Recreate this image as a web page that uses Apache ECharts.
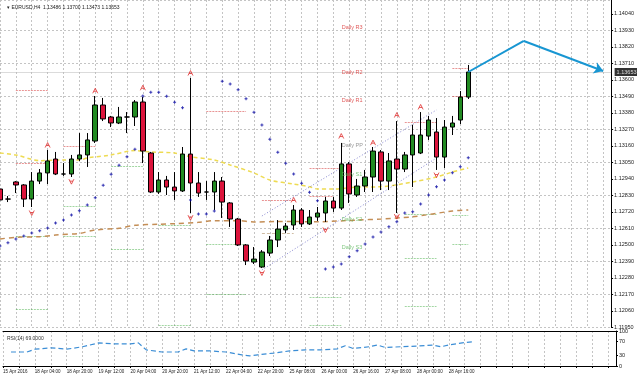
<!DOCTYPE html>
<html>
<head>
<meta charset="utf-8">
<script src="https://cdn.jsdelivr.net/npm/echarts@6.0.0/dist/echarts.min.js"></script>
<style>
  html, body { margin: 0; padding: 0; background: #fff; }
  #chart { width: 637px; height: 378px; }
</style>
</head>
<body>
<div id="chart"></div>
<script>
// EURUSD H4, one candle per slot, a time label every 4th slot
var timeLabels = ["15 Apr 2016", "18 Apr 04:00", "18 Apr 20:00", "19 Apr 12:00", "20 Apr 04:00",
  "20 Apr 20:00", "21 Apr 12:00", "22 Apr 04:00", "22 Apr 20:00", "25 Apr 08:00",
  "26 Apr 00:00", "26 Apr 16:00", "27 Apr 08:00", "28 Apr 00:00", "28 Apr 16:00"];

// [open, close, low, high]
var candles = [
  [1.12873, 1.12800, 1.12773, 1.12906], [1.12806, 1.12806, 1.12786, 1.12826],
  [1.12920, 1.12900, 1.12846, 1.12926], [1.12900, 1.12806, 1.12753, 1.12906],
  [1.12806, 1.12926, 1.12753, 1.12986], [1.12926, 1.12980, 1.12906, 1.13006],
  [1.12980, 1.13060, 1.12906, 1.13133], [1.13073, 1.12973, 1.12966, 1.13120],
  [1.12973, 1.12973, 1.12960, 1.13046], [1.12973, 1.13073, 1.12953, 1.13100],
  [1.13073, 1.13100, 1.13060, 1.13246], [1.13100, 1.13200, 1.13020, 1.13246],
  [1.13193, 1.13433, 1.13180, 1.13493], [1.13433, 1.13340, 1.13326, 1.13480],
  [1.13353, 1.13313, 1.13286, 1.13360], [1.13313, 1.13353, 1.13306, 1.13420],
  [1.13353, 1.13353, 1.13246, 1.13386], [1.13353, 1.13453, 1.13293, 1.13466],
  [1.13453, 1.13126, 1.13046, 1.13486], [1.13113, 1.12853, 1.12846, 1.13120],
  [1.12853, 1.12933, 1.12840, 1.12986], [1.12933, 1.12886, 1.12833, 1.12960],
  [1.12886, 1.12860, 1.12800, 1.12986], [1.12860, 1.13106, 1.12853, 1.13153],
  [1.13106, 1.12913, 1.12713, 1.13613], [1.12913, 1.12846, 1.12820, 1.12986],
  [1.12853, 1.12853, 1.12800, 1.12926], [1.12853, 1.12926, 1.12733, 1.12986],
  [1.12926, 1.12786, 1.12680, 1.12953], [1.12780, 1.12673, 1.12620, 1.12786],
  [1.12673, 1.12500, 1.12493, 1.12680], [1.12500, 1.12393, 1.12366, 1.12506],
  [1.12386, 1.12406, 1.12373, 1.12486], [1.12353, 1.12453, 1.12346, 1.12466],
  [1.12446, 1.12533, 1.12426, 1.12560], [1.12533, 1.12606, 1.12486, 1.12666],
  [1.12600, 1.12626, 1.12580, 1.12646], [1.12633, 1.12733, 1.12600, 1.12766],
  [1.12733, 1.12640, 1.12620, 1.12746], [1.12640, 1.12686, 1.12633, 1.12733],
  [1.12686, 1.12713, 1.12660, 1.12753], [1.12713, 1.12793, 1.12653, 1.12820],
  [1.12793, 1.12746, 1.12720, 1.12820], [1.12746, 1.13040, 1.12733, 1.13180],
  [1.13040, 1.12840, 1.12780, 1.13053], [1.12833, 1.12893, 1.12820, 1.12940],
  [1.12893, 1.12953, 1.12853, 1.13000], [1.12953, 1.13126, 1.12853, 1.13153],
  [1.13120, 1.12926, 1.12866, 1.13133], [1.12926, 1.13060, 1.12866, 1.13113],
  [1.13073, 1.13006, 1.12713, 1.13326], [1.13006, 1.13100, 1.12986, 1.13120],
  [1.13100, 1.13233, 1.12886, 1.13300], [1.13113, 1.13233, 1.13106, 1.13386],
  [1.13226, 1.13333, 1.13200, 1.13360], [1.13253, 1.13086, 1.13000, 1.13346],
  [1.13086, 1.13286, 1.13013, 1.13333], [1.13286, 1.13313, 1.13233, 1.13360],
  [1.13333, 1.13486, 1.13306, 1.13526], [1.13486, 1.13653, 1.13473, 1.13700]
];

// parabolic SAR [slot, price]
var sarPoints = [
  [0, 1.12493], [1, 1.12515], [2, 1.12540], [3, 1.12560], [4, 1.12580], [5, 1.12595],
  [6, 1.12613], [7, 1.12646], [8, 1.12666], [9, 1.12700], [10, 1.12728], [11, 1.12766],
  [12, 1.12815], [13, 1.12898], [14, 1.12971], [15, 1.13031], [16, 1.13088], [17, 1.13138],
  [18, 1.13493], [19, 1.13518], [20, 1.13518], [21, 1.13491], [22, 1.13451], [23, 1.13415],
  [24, 1.12800], [25, 1.12706], [26, 1.12706], [27, 1.12726],
  [28, 1.13591], [29, 1.13573], [30, 1.13535], [31, 1.13475], [32, 1.13384], [33, 1.13300],
  [34, 1.13204], [35, 1.13118], [36, 1.13044], [37, 1.12973], [38, 1.12911], [39, 1.12851],
  [40, 1.12795], [41, 1.12340], [42, 1.12353], [43, 1.12373], [44, 1.12422], [45, 1.12462],
  [46, 1.12506], [47, 1.12553], [48, 1.12586], [49, 1.12622], [50, 1.12655], [51, 1.12713],
  [52, 1.12722], [53, 1.12773], [54, 1.12833], [55, 1.12888], [56, 1.12933], [57, 1.12982],
  [58, 1.13022], [59, 1.13082]
];

var fractalUp = [[6, 1.13166], [12, 1.13528], [18, 1.13548], [24, 1.13646], [37, 1.12800],
  [43, 1.13226], [47, 1.13182], [50, 1.13366], [53, 1.13420]];
var fractalDown = [[4, 1.12713], [9, 1.12922], [24, 1.12682], [33, 1.12313], [41, 1.12600],
  [50, 1.12689], [55, 1.12966]];

// moving averages, read at a few slots
var maYellow = [[0, 1.13113], [2, 1.13100], [5, 1.13062], [8, 1.13066], [10, 1.13066],
  [11, 1.13080], [14, 1.13100], [17, 1.13129], [19, 1.13120], [22, 1.13113], [24, 1.13088],
  [27, 1.13066], [29, 1.13033], [32, 1.12980], [34, 1.12933], [37, 1.12906], [39, 1.12888],
  [40, 1.12873], [42, 1.12873], [45, 1.12886], [48, 1.12888], [52, 1.12920], [55, 1.12953],
  [57, 1.12986], [59, 1.13013]];
var maBrown = [[0, 1.12540], [2, 1.12551], [5, 1.12555], [7, 1.12566], [10, 1.12577],
  [12, 1.12600], [15, 1.12611], [17, 1.12631], [20, 1.12638], [22, 1.12642], [25, 1.12651],
  [27, 1.12662], [30, 1.12662], [32, 1.12653], [35, 1.12656], [40, 1.12655], [45, 1.12666],
  [48, 1.12673], [52, 1.12688], [57, 1.12726], [59, 1.12733]];

// RSI(14) [slot, value]
var rsiPoints = [[1, 40], [3, 40], [4, 48], [6, 52], [8, 48], [10, 55], [12, 66], [14, 63],
  [16, 63], [17, 66], [18, 46], [20, 40], [22, 40], [23, 49], [24, 43], [26, 43], [28, 40],
  [30, 32], [31, 29], [32, 32], [34, 37], [36, 43], [38, 46], [40, 46], [42, 49], [43, 58],
  [44, 50], [46, 55], [47, 60], [48, 53], [50, 55], [51, 56], [52, 57], [54, 60], [55, 55],
  [56, 60], [58, 67], [59, 69]];

// daily pivot segments [fromSlot, toSlot, price]
var pivotRed = [[2, 6, 1.13533], [2, 6, 1.13044], [8, 12, 1.13160], [26, 31, 1.13393],
  [33, 37, 1.12800], [39, 43, 1.13011], [39, 42, 1.12826], [51, 55, 1.13315],
  [57, 59, 1.13488], [57, 59, 1.13678]];
var pivotGreen = [[2, 6, 1.12560], [2, 6, 1.12073], [8, 12, 1.12760], [8, 12, 1.12555],
  [14, 18, 1.13026], [14, 18, 1.12473], [20, 24, 1.12633], [20, 24, 1.11966],
  [26, 31, 1.12505], [26, 31, 1.12171], [39, 43, 1.12151], [39, 43, 1.11966],
  [51, 55, 1.12704], [51, 55, 1.12413], [51, 55, 1.12093], [57, 59, 1.12695], [57, 59, 1.12505]];
var pivotMid = [[33, 37, 1.12578]];

var dailyNames = ["Daily R3", "Daily R2", "Daily R1", "Daily PP", "Daily S1", "Daily S2", "Daily S3"];
var dailyPrices = [1.13953, 1.13653, 1.13462, 1.13166, 1.12973, 1.12673, 1.12480];

var channelUpper = [[33, 1.12693], [55, 1.13400]];
var channelLower = [[33, 1.12333], [55, 1.13080]];
// hand-drawn forecast: up leg then down leg ending in an arrow
var forecastUp = [[59, 1.13653], [66, 1.13860]];
var forecastDown = [[66, 1.13860], [76, 1.13660]];

var priceMin = 1.1195, priceMax = 1.14133, priceStep = 0.0011;
var slotCount = 78;

var categories = [];
for (var i = 0; i < slotCount; i++) {
  categories.push(i % 4 === 0 && timeLabels[i / 4] ? timeLabels[i / 4] : "");
}
var last = candles[candles.length - 1];
var lastClose = last[1];

function segs(list) {
  return list.map(function (s) { return { coords: [[s[0], s[2]], [s[1], s[2]]] }; });
}
function levelColor(name) {
  if (name.indexOf(" R") > 0) return "#d83030";
  if (name.indexOf(" PP") > 0) return "#808080";
  return "#5cb85c";
}

var fontFam = "Liberation Sans";
var gridDots = { show: true, interval: 1, lineStyle: { color: "#c4c4c4", type: [2, 2], width: 1 } };
var upPath = "path://M0,10L5,0L10,10M2,6L8,6";
var downPath = "path://M0,0L5,10L10,0M2,4L8,4";
var plusPath = "path://M1,0H2V1H3V2H2V3H1V2H0V1H1Z";
var arrowBlue = "#1896d2";

var chart = echarts.init(document.getElementById("chart"));
chart.setOption({
  animation: false,
  backgroundColor: "#fff",
  title: [
    {
      text: "\u25BE EURUSD,H4  " + last[0].toFixed(5) + " " + last[3].toFixed(5) + " " +
        last[2].toFixed(5) + " " + lastClose.toFixed(5),
      left: 2, top: 0,
      textStyle: { fontSize: 5, fontWeight: "normal", color: "#222", fontFamily: fontFam }
    },
    {
      text: "RSI(14) " + rsiPoints[rsiPoints.length - 1][1].toFixed(4),
      left: 2, top: 331,
      textStyle: { fontSize: 5, fontWeight: "normal", color: "#333", fontFamily: fontFam }
    }
  ],
  grid: [
    { left: 0, top: 0, width: 616, height: 327.45 },
    { left: 0, top: 331, width: 616, height: 35 }
  ],
  xAxis: [
    {
      type: "category", gridIndex: 0, data: categories, boundaryGap: false,
      axisLine: { show: false }, axisTick: { show: false }, axisLabel: { show: false },
      splitLine: gridDots
    },
    {
      type: "category", gridIndex: 1, data: categories, boundaryGap: false,
      axisLine: { show: true, lineStyle: { color: "#000", width: 1 } },
      axisTick: { show: true, interval: 1, length: 2, lineStyle: { color: "#000" } },
      axisLabel: { interval: 3, align: "left", fontSize: 4.5, margin: 3, color: "#222", fontFamily: fontFam },
      splitLine: gridDots
    },
    {
      type: "category", gridIndex: 1, data: categories, boundaryGap: false, position: "top",
      axisLine: { show: true, lineStyle: { color: "#000", width: 1 } },
      axisTick: { show: false }, axisLabel: { show: false }, splitLine: { show: false }
    }
  ],
  yAxis: [
    {
      type: "value", gridIndex: 0, position: "right", min: priceMin, max: priceMax, interval: priceStep,
      axisLine: { show: true, lineStyle: { color: "#000", width: 1 } },
      axisTick: { show: true, length: 2, lineStyle: { color: "#000" } },
      axisLabel: {
        fontSize: 5.5, margin: 3, color: "#222", fontFamily: fontFam, showMaxLabel: false,
        formatter: function (v) { return v.toFixed(5); }
      },
      splitLine: { show: false }
    },
    {
      type: "value", gridIndex: 0, position: "right", min: priceMin, max: priceMax, interval: priceStep * 2,
      axisLine: { show: false }, axisTick: { show: false }, axisLabel: { show: false },
      splitLine: { show: true, lineStyle: { color: "#c4c4c4", type: [2, 2], width: 1 } }
    },
    {
      type: "value", gridIndex: 1, position: "right", min: 0, max: 100,
      axisLine: { show: true, lineStyle: { color: "#000", width: 1 } },
      axisTick: { show: true, length: 2, customValues: [0, 30, 70, 100], lineStyle: { color: "#000" } },
      axisLabel: { fontSize: 5.5, margin: 3, color: "#222", fontFamily: fontFam, customValues: [0, 30, 70, 100] },
      splitLine: { show: false }
    }
  ],
  series: [
    {
      // current bid line across the chart
      type: "lines", coordinateSystem: "cartesian2d", xAxisIndex: 0, yAxisIndex: 0,
      data: [{ coords: [[0, lastClose], [slotCount - 1, lastClose]] }],
      lineStyle: { color: "#b8b8b8", width: 1, type: "solid" }, z: 1
    },
    {
      type: "scatter", xAxisIndex: 0, yAxisIndex: 0, clip: false,
      data: [[slotCount - 1, lastClose]], symbolSize: 1, itemStyle: { color: "rgba(0,0,0,0)" },
      label: {
        show: true, position: "right", distance: 3, formatter: lastClose.toFixed(5),
        backgroundColor: "#000", color: "#fff", fontSize: 5.5, padding: [1, 2], fontFamily: fontFam
      },
      z: 8
    },
    {
      type: "lines", coordinateSystem: "cartesian2d", xAxisIndex: 0, yAxisIndex: 0,
      data: segs(pivotRed), lineStyle: { color: "#d42a2a", width: 1, type: [2, 1] }, z: 2
    },
    {
      type: "lines", coordinateSystem: "cartesian2d", xAxisIndex: 0, yAxisIndex: 0,
      data: segs(pivotGreen), lineStyle: { color: "#45b045", width: 1, type: [2, 1] }, z: 2
    },
    {
      type: "lines", coordinateSystem: "cartesian2d", xAxisIndex: 0, yAxisIndex: 0,
      data: segs(pivotMid), lineStyle: { color: "#a07a48", width: 1, type: [3, 2] }, z: 2
    },
    {
      type: "line", xAxisIndex: 0, yAxisIndex: 0, data: maYellow, symbol: "none", smooth: 0.3,
      lineStyle: { color: "#eedb52", width: 1.5, type: [4, 3] }, z: 2
    },
    {
      type: "line", xAxisIndex: 0, yAxisIndex: 0, data: maBrown, symbol: "none", smooth: 0.3,
      lineStyle: { color: "#c48e56", width: 1.5, type: [5, 4] }, z: 2
    },
    {
      type: "lines", coordinateSystem: "cartesian2d", xAxisIndex: 0, yAxisIndex: 0,
      data: [{ coords: channelUpper }, { coords: channelLower }],
      lineStyle: { color: "#1010a0", width: 1, type: [1, 2] }, z: 3
    },
    {
      type: "candlestick", xAxisIndex: 0, yAxisIndex: 0, data: candles, barWidth: 5,
      itemStyle: {
        color: "#228b22", color0: "#dc143c",
        borderColor: "#000", borderColor0: "#000", borderWidth: 1
      },
      z: 4
    },
    {
      type: "scatter", xAxisIndex: 0, yAxisIndex: 0, data: sarPoints,
      symbol: plusPath, symbolSize: 3, itemStyle: { color: "#0000a0" }, z: 5
    },
    {
      type: "scatter", xAxisIndex: 0, yAxisIndex: 0, data: fractalUp,
      symbol: upPath, symbolSize: 5,
      itemStyle: { color: "rgba(0,0,0,0)", borderColor: "#e03030", borderWidth: 1 }, z: 5
    },
    {
      type: "scatter", xAxisIndex: 0, yAxisIndex: 0, data: fractalDown,
      symbol: downPath, symbolSize: 5,
      itemStyle: { color: "rgba(0,0,0,0)", borderColor: "#e03030", borderWidth: 1 }, z: 5
    },
    {
      type: "scatter", xAxisIndex: 0, yAxisIndex: 0,
      data: dailyNames.map(function (n, i) {
        return { name: n, value: [43, dailyPrices[i]], label: { color: levelColor(n) } };
      }),
      symbolSize: 1, itemStyle: { color: "rgba(0,0,0,0)" },
      label: {
        show: true, position: "right", distance: 0, fontSize: 5.5, fontFamily: fontFam,
        formatter: function (p) { return p.name; }
      },
      labelLayout: { hideOverlap: false },
      z: 6
    },
    {
      type: "lines", coordinateSystem: "cartesian2d", xAxisIndex: 0, yAxisIndex: 0,
      data: [{ coords: forecastUp }], symbol: ["none", "none"],
      lineStyle: { color: arrowBlue, width: 2, opacity: 1 }, z: 7
    },
    {
      type: "lines", coordinateSystem: "cartesian2d", xAxisIndex: 0, yAxisIndex: 0,
      data: [{ coords: forecastDown }], symbol: ["none", "arrow"], symbolSize: 9,
      lineStyle: { color: arrowBlue, width: 2, opacity: 1 }, z: 7
    },
    {
      type: "line", xAxisIndex: 1, yAxisIndex: 2, data: rsiPoints, symbol: "none",
      lineStyle: { color: "#3b8dd5", width: 1.2, type: [5, 3] }
    }
  ]
});
</script>
</body>
</html>
